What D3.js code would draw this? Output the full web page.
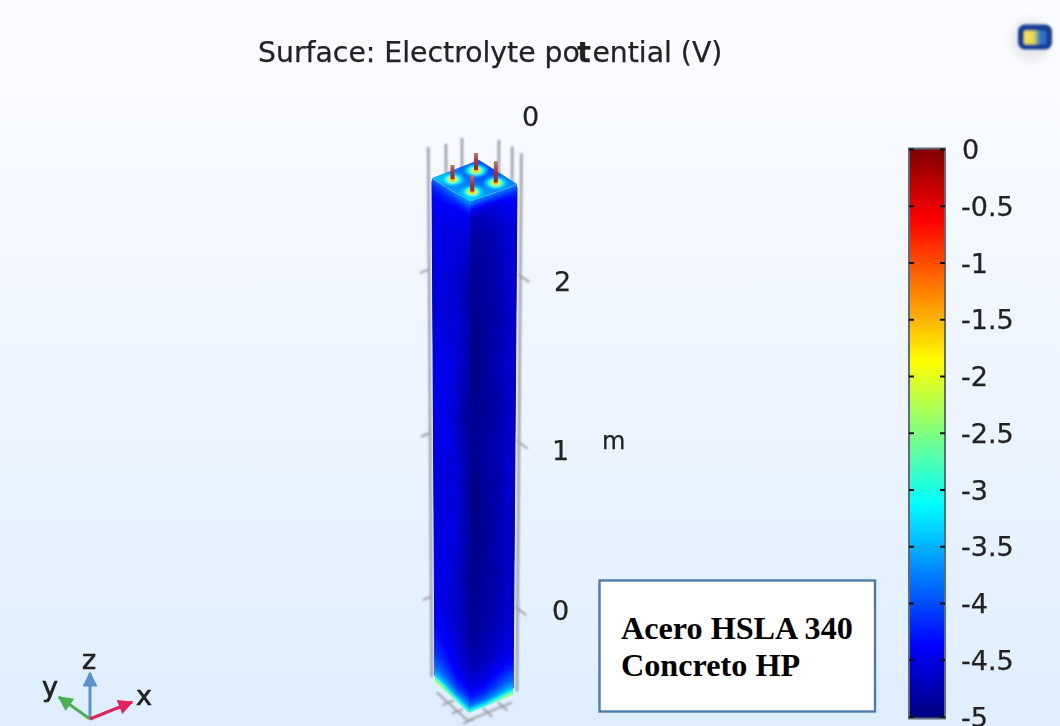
<!DOCTYPE html>
<html><head><meta charset="utf-8">
<style>html,body{margin:0;padding:0;background:#fff;overflow:hidden}svg{display:block}text{font-family:"DejaVu Sans",sans-serif;fill:#222}</style>
<script src="https://cdn.jsdelivr.net/npm/d3@7"></script></head><body><div id="c"></div>
<script>
// ---- data ----
const titleParts = ["Surface: Electrolyte po","t","ential (V)"];
const unitLabel = "m";
const legendTicks = [0,-0.5,-1,-1.5,-2,-2.5,-3,-3.5,-4,-4.5,-5];
const legendTickLabels = ["0","-0.5","-1","-1.5","-2","-2.5","-3","-3.5","-4","-4.5","-5"];
const zTicks = [0,1,2];
const topAxisLabel = "0";
const boxLines = ["Acero HSLA 340","Concreto HP"];
const triadNames = ["z","y","x"];
const triadColors = ["#5b91cc","#4bb04f","#e2225f"];
// jet colour stops over the legend domain
const jetValues = [-5,-4.375,-3.75,-3.125,-2.5,-1.875,-1.25,-0.625,0];
const jetColors = ["#000080","#0000ff","#0080ff","#00ffff","#80ff80","#ffff00","#ff8000","#ff0000","#800000"];
// column height stations (m) and potential (V) across each face at each station
const zStations = [-0.53,-0.515,-0.49,-0.44,-0.36,-0.25,-0.05,0.25,0.5,0.8,1,1.25,1.5,1.75,2,2.3,2.45,2.5,2.53,2.55];
const leftFace = [
 [-1.9,-2.1,-2.4,-2.6],[-2.4,-2.7,-2.9,-3.1],[-3.3,-3.4,-3.6,-3.6],
 [-3.8,-3.9,-4.1,-4.1],[-4.1,-4.2,-4.35,-4.45],[-4.3,-4.4,-4.5,-4.65],[-4.45,-4.55,-4.6,-4.75],
 [-4.5,-4.5,-4.6,-4.8],[-4.55,-4.5,-4.55,-4.75],[-4.5,-4.6,-4.5,-4.8],[-4.5,-4.45,-4.6,-4.75],
 [-4.45,-4.5,-4.6,-4.85],[-4.5,-4.45,-4.55,-4.75],[-4.55,-4.6,-4.55,-4.7],[-4.5,-4.55,-4.6,-4.75],
 [-4.45,-4.5,-4.5,-4.6],[-4.35,-4.35,-4.4,-4.45],[-4.2,-4.15,-4.2,-4.2],[-4.0,-3.95,-3.9,-3.85],
 [-3.85,-3.75,-3.65,-3.6]];
const rightFace = [
 [-2.6,-2.7,-2.4,-2.0],[-3.1,-3.2,-2.9,-2.6],[-3.8,-3.8,-3.6,-3.4],
 [-4.25,-4.2,-4.05,-3.85],[-4.55,-4.5,-4.35,-4.25],[-4.75,-4.7,-4.6,-4.5],[-4.9,-4.8,-4.75,-4.6],
 [-4.95,-4.85,-4.8,-4.65],[-4.95,-4.9,-4.75,-4.65],[-5,-4.85,-4.8,-4.6],[-4.95,-4.8,-4.75,-4.65],
 [-4.9,-4.9,-4.8,-4.65],[-5,-4.85,-4.75,-4.6],[-4.95,-4.85,-4.8,-4.65],[-4.9,-4.85,-4.75,-4.6],
 [-4.85,-4.8,-4.7,-4.55],[-4.7,-4.65,-4.55,-4.4],[-4.4,-4.4,-4.35,-4.25],[-4.05,-4.0,-3.95,-3.95],
 [-3.6,-3.7,-3.75,-3.8]];
// top face potential on a plan grid: rows along u, columns along v
const topFace = [
 [-3.35,-3.6,-3.7,-3.45],
 [-3.6,-3.75,-3.8,-3.65],
 [-3.75,-3.9,-4.0,-3.9],
 [-3.7,-3.85,-4.05,-4.0]];
// reinforcement bars: plan position (column widths), projecting length (m)
const barU = [0.25,0.75,0.75,0.25];
const barV = [0.77,0.77,0.25,0.25];
const barLen = [0.086,0.104,0.129,0.098];
// potential rings round each bar, outer to inner, with relative radius
const ringValues = [-3.45,-3.1,-2.5,-1.9,-1.0];
const ringRadius = [1,0.74,0.52,0.36,0.2];
// back edges of the axis box, plan position
const guideU = [-0.05,0.25,0.586,1.03,1.06,1.04];
const guideV = [1.03,0.94,0.935,0.516,0.205,-0.06];
const guideRise = 0.19;
// axis ticks under the column, plan positions
const floorTicksAlongV = [0.42,0.145,-0.178];
const floorTicksAlongU = [0.30,0.64];

// ---- drawing ----
const W=1060,H=726;
const svg=d3.select("#c").append("svg").attr("width",W).attr("height",H);
const defs=svg.append("defs");
const bg=defs.append("linearGradient").attr("id","bg").attr("x1",0).attr("x2",0).attr("y1",0).attr("y2",1);
bg.append("stop").attr("offset",0).attr("stop-color","#fbfcff");
bg.append("stop").attr("offset",0.45).attr("stop-color","#f0f6ff");
bg.append("stop").attr("offset",1).attr("stop-color","#deeeff");
const blur=(id,s)=>defs.append("filter").attr("id",id).attr("x","-30%").attr("y","-30%").attr("width","160%").attr("height","160%")
  .append("feGaussianBlur").attr("stdDeviation",s);
blur("soft",1.0);blur("soft1",0.8);blur("txt",0.45);blur("halo",3);blur("spot",1.0);
svg.append("rect").attr("width",W).attr("height",H).attr("fill","url(#bg)");
const jet=d3.scaleLinear().domain(jetValues).range(jetColors).clamp(true);

// title
const title=svg.append("text").attr("x",258).attr("y",62).attr("font-size",28.3).attr("filter","url(#txt)")
  .attr("stroke","#222").attr("stroke-width",0.25);
title.selectAll("tspan").data(titleParts).join("tspan")
  .attr("dx",(d,i)=>i===1?-2.5:i===2?1.5:0).attr("font-weight",(d,i)=>i===1?"bold":null).text(d=>d);

// projection: u runs front to right corner, v front to left corner, z up the column
const zBot=-0.53,zTop=2.55;
const lin=(a,b)=>d3.scaleLinear().domain([zBot,zTop]).range([a,b]);
const fx=lin(469,470),fy=lin(713,202),rx=lin(513,517),ry=lin(695,184),lx=lin(435,432),ly=lin(682,178);
const P=(u,v,z)=>[fx(z)+u*(rx(z)-fx(z))+v*(lx(z)-fx(z)), fy(z)+u*(ry(z)-fy(z))+v*(ly(z)-fy(z))];
const poly=a=>a.map(p=>p.join(",")).join(" ");
const GRID="#9c9fa3";

// grey axis box behind the column
const back=svg.append("g").attr("filter","url(#soft1)");
back.selectAll("line.g").data(d3.range(guideU.length)).join("line").attr("class","g")
  .attr("x1",i=>P(guideU[i],guideV[i],(i===0||i===5)?zBot+0.03:zTop-0.2)[0])
  .attr("y1",i=>P(guideU[i],guideV[i],(i===0||i===5)?zBot+0.03:zTop-0.2)[1])
  .attr("x2",i=>P(guideU[i],guideV[i],zTop+guideRise)[0])
  .attr("y2",i=>P(guideU[i],guideV[i],zTop+guideRise)[1])
  .attr("stroke",GRID).attr("stroke-width",2.6);
back.selectAll("line.tl").data(zTicks).join("line").attr("class","tl")
  .attr("x1",z=>P(-0.05,1,z)[0]).attr("y1",z=>P(-0.05,1,z)[1])
  .attr("x2",z=>P(-0.27,1,z)[0]).attr("y2",z=>P(-0.27,1,z)[1]).attr("stroke",GRID).attr("stroke-width",2);
back.selectAll("line.tr").data(zTicks).join("line").attr("class","tr")
  .attr("x1",z=>P(1.04,0,z)[0]).attr("y1",z=>P(1.04,0,z)[1])
  .attr("x2",z=>P(1.04,-0.3,z)[0]).attr("y2",z=>P(1.04,-0.3,z)[1]).attr("stroke",GRID).attr("stroke-width",2);
back.selectAll("line.fv").data(floorTicksAlongV).join("line").attr("class","fv")
  .attr("x1",v=>P(-0.28,v,zBot)[0]).attr("y1",v=>P(-0.28,v,zBot)[1])
  .attr("x2",v=>P(-0.02,v,zBot)[0]).attr("y2",v=>P(-0.02,v,zBot)[1]).attr("stroke",GRID).attr("stroke-width",2);
back.selectAll("line.fu").data(floorTicksAlongU).join("line").attr("class","fu")
  .attr("x1",u=>P(u,-0.02,zBot)[0]).attr("y1",u=>P(u,-0.02,zBot)[1])
  .attr("x2",u=>P(u,-0.3,zBot)[0]).attr("y2",u=>P(u,-0.3,zBot)[1]).attr("stroke",GRID).attr("stroke-width",2);
back.append("polyline").attr("fill","none").attr("stroke",GRID).attr("stroke-width",2)
  .attr("points",poly([P(-0.15,0.75,zBot),P(-0.15,-0.16,zBot),P(0.85,-0.16,zBot)]));

// column faces: table values shaded smoothly between stations
const body=svg.append("g");
body.append("polygon").attr("fill","#0000c8").attr("stroke","#0000c8").attr("stroke-width",1)
  .attr("points",poly([P(0,1,zTop-0.02),P(0,0,zTop),P(1,0,zTop-0.02),P(1,0,zBot+0.04),P(0,0,zBot+0.04),P(0,1,zBot+0.04)]));
const clip=(id,pts)=>defs.append("clipPath").attr("id",id).append("polygon").attr("points",poly(pts));
const facePoint=(side,t,z)=>side==="L"?P(0,1-t,z):P(t,0,z);
const rowIndex=d3.scaleLinear().domain(zStations).range(d3.range(zStations.length)).clamp(true);
const colIndex=d3.scaleLinear().domain([0.125,0.875]).range([0,3]).clamp(true);
function fieldAt(values,t,z){
  const r=rowIndex(z),c=colIndex(t);
  const r0=Math.min(Math.floor(r),values.length-2),c0=Math.min(Math.floor(c),2);
  const fr=r-r0,fc=c-c0;
  const a=values[r0][c0]*(1-fc)+values[r0][c0+1]*fc;
  const b=values[r0+1][c0]*(1-fc)+values[r0+1][c0+1]*fc;
  return a*(1-fr)+b*fr;
}
function drawFace(id,side,values){
  clip(id,[facePoint(side,0,zTop),facePoint(side,1,zTop),facePoint(side,1,zBot),facePoint(side,0,zBot)]);
  const cells=[];const nCols=14;
  zStations.slice(0,-1).forEach((z,i)=>{
    const zn=zStations[i+1];
    const rows=Math.max(1,Math.ceil((zn-z)*163/3));
    d3.range(rows).forEach(k=>{
      const z0=z+(zn-z)*k/rows,z1=z+(zn-z)*(k+1)/rows;
      d3.range(-2,nCols+2).forEach(j=>cells.push({z0,z1,a:j/nCols,b:(j+1)/nCols,
        val:fieldAt(values,(j+0.5)/nCols,(z0+z1)/2)}));
    });
  });
  body.append("g").attr("clip-path",`url(#${id})`).append("g").attr("filter","url(#soft)")
   .selectAll("polygon").data(cells).join("polygon")
   .attr("fill",d=>jet(d.val)).attr("stroke",d=>jet(d.val)).attr("stroke-width",0.8)
   .attr("points",d=>poly([facePoint(side,d.a,d.z0),facePoint(side,d.b,d.z0),facePoint(side,d.b,d.z1),facePoint(side,d.a,d.z1)]));
}
drawFace("cl","L",leftFace);
drawFace("cr","R",rightFace);

// top face
clip("ct",[P(0,0,zTop),P(1,0,zTop),P(1,1,zTop),P(0,1,zTop)]);
const topG=body.append("g").attr("clip-path","url(#ct)");
const topCells=topG.append("g").attr("filter","url(#halo)");
const topList=[];topFace.forEach((r,i)=>r.forEach((val,j)=>topList.push({i,j,val})));
topCells.selectAll("polygon").data(topList).join("polygon")
  .attr("fill",d=>jet(d.val)).attr("stroke",d=>jet(d.val))
  .attr("points",d=>{const e=t=>t===0?-0.4:t===4?1.4:t/4;
    return poly([P(e(d.i),e(d.j),zTop),P(e(d.i+1),e(d.j),zTop),P(e(d.i+1),e(d.j+1),zTop),P(e(d.i),e(d.j+1),zTop)]);});
const spots=topG.append("g").attr("filter","url(#spot)");
barU.forEach((u,b)=>{
  const c=P(u,barV[b],zTop);
  spots.selectAll(`ellipse.r${b}`).data(ringValues).join("ellipse").attr("class",`r${b}`)
   .attr("cx",c[0]).attr("cy",c[1]+0.5)
   .attr("rx",(d,i)=>ringRadius[i]*11.5).attr("ry",(d,i)=>ringRadius[i]*6.5)
   .attr("fill",d=>jet(d));
});
// bars
const barGrad=defs.append("linearGradient").attr("id","barc").attr("x1",0).attr("x2",0).attr("y1",0).attr("y2",1);
barGrad.append("stop").attr("offset",0).attr("stop-color","#b97a7a");
barGrad.append("stop").attr("offset",0.5).attr("stop-color","#b03232");
barGrad.append("stop").attr("offset",1).attr("stop-color","#a82020");
const bars=svg.append("g").attr("filter","url(#txt)");
bars.selectAll("polygon").data(barU).join("polygon")
  .attr("fill","url(#barc)")
  .attr("points",(u,i)=>{const a=P(u,barV[i],zTop),b=P(u,barV[i],zTop+barLen[i]);
    return poly([[a[0]-2,a[1]],[a[0]+2,a[1]],[b[0]+2,b[1]],[b[0]-2,b[1]]]);});

// axis labels
const zY=d3.scaleLinear().domain([0,1,2]).range([610,450,281]);
const labels=svg.append("g").attr("font-size",27).attr("filter","url(#txt)").attr("stroke","#222").attr("stroke-width",0.25);
labels.selectAll("text.z").data(zTicks).join("text").attr("class","z")
  .attr("x",z=>z===2?554:552).attr("y",z=>zY(z)+10).text(d=>d);
labels.append("text").attr("x",522).attr("y",126).text(topAxisLabel);
labels.append("text").attr("x",602).attr("y",449).attr("font-size",24).text(unitLabel);

// colour legend
const legendY=d3.scaleLinear().domain([0,-5]).range([149,716.5]);
const lg=defs.append("linearGradient").attr("id","jetbar").attr("gradientUnits","userSpaceOnUse")
  .attr("x1",0).attr("x2",0).attr("y1",legendY(0)).attr("y2",legendY(-5));
lg.selectAll("stop").data(jetValues.slice().reverse()).join("stop")
  .attr("offset",d=>(legendY(d)-legendY(0))/(legendY(-5)-legendY(0))).attr("stop-color",d=>jet(d));
const legend=svg.append("g");
legend.append("rect").attr("x",909).attr("y",148.5).attr("width",36).attr("height",570)
  .attr("fill","url(#jetbar)").attr("stroke","#5f6b78").attr("stroke-width",2);
[[909,d3.axisRight],[945,d3.axisLeft]].forEach(([x,ax])=>{
  const g=legend.append("g").attr("transform",`translate(${x},0)`)
    .call(ax(legendY).tickValues(legendTicks).tickSize(5).tickFormat(""));
  g.select(".domain").remove();
  g.selectAll("line").attr("stroke","#111").attr("stroke-width",2);
  g.selectAll("text").remove();
});
legend.append("g").attr("font-size",27).attr("filter","url(#txt)").attr("stroke","#222").attr("stroke-width",0.25)
  .selectAll("text").data(legendTicks).join("text")
  .attr("x",d=>d===0?962:961).attr("y",d=>legendY(d)+10).text((d,i)=>legendTickLabels[i]);

// note box
svg.append("rect").attr("x",599.5).attr("y",580.5).attr("width",275.5).attr("height",131)
  .attr("fill","#fff").attr("stroke","#4f7bab").attr("stroke-width",2.4);
svg.append("g").selectAll("text").data(boxLines).join("text")
  .attr("x",621).attr("y",(d,i)=>639+i*37)
  .style("font-family",'"Liberation Serif",serif').style("font-weight","bold").style("fill","#000")
  .attr("font-size",32.2).text(d=>d);

// orientation triad
const triadX=d3.scaleLinear().domain([0,1]).range([90,132]);
const triadY=d3.scaleLinear().domain([0,1]).range([719,702]);
const triadEnds=[[0,2.7],[-0.74,1.29],[1,1]];
defs.selectAll("marker").data(triadColors).join("marker").attr("id",(d,i)=>"m"+i)
  .attr("viewBox","0 0 10 10").attr("refX",9).attr("refY",5).attr("markerWidth",19).attr("markerHeight",15)
  .attr("markerUnits","userSpaceOnUse").attr("orient","auto")
  .append("path").attr("d","M0,0L10,5L0,10Z").attr("fill",d=>d);
const triad=svg.append("g").attr("filter","url(#txt)");
triad.selectAll("line").data(triadEnds).join("line")
  .attr("x1",triadX(0)).attr("y1",triadY(0)).attr("x2",d=>triadX(d[0])).attr("y2",d=>triadY(d[1]))
  .attr("stroke",(d,i)=>triadColors[i]).attr("stroke-width",3).attr("marker-end",(d,i)=>`url(#m${i})`);
triad.selectAll("text").data(triadEnds).join("text").attr("font-size",27).attr("text-anchor","middle")
  .attr("stroke","#222").attr("stroke-width",0.7)
  .attr("x",(d,i)=>[89,50,144][i]).attr("y",(d,i)=>[669,696,705][i]).text((d,i)=>triadNames[i]);

// toolbar icon
svg.append("ellipse").attr("cx",1031).attr("cy",40).attr("rx",21).attr("ry",22).attr("fill","#e9ebee").attr("filter","url(#halo)");
const iconG=svg.append("g").attr("transform","translate(1035,37.5)");
const ig=defs.append("linearGradient").attr("id","ic");
ig.append("stop").attr("offset",0.1).attr("stop-color","#f6e24e");
ig.append("stop").attr("offset",0.45).attr("stop-color","#dcd860");
ig.append("stop").attr("offset",0.75).attr("stop-color","#2b72c8");
const ic=iconG.append("g").attr("filter","url(#soft1)");
ic.append("rect").attr("x",-17).attr("y",-13).attr("width",34).attr("height",25).attr("rx",7).attr("fill","#173f93");
ic.append("rect").attr("x",-11).attr("y",-7).attr("width",22).attr("height",14).attr("rx",2).attr("fill","url(#ic)");
</script></body></html>
